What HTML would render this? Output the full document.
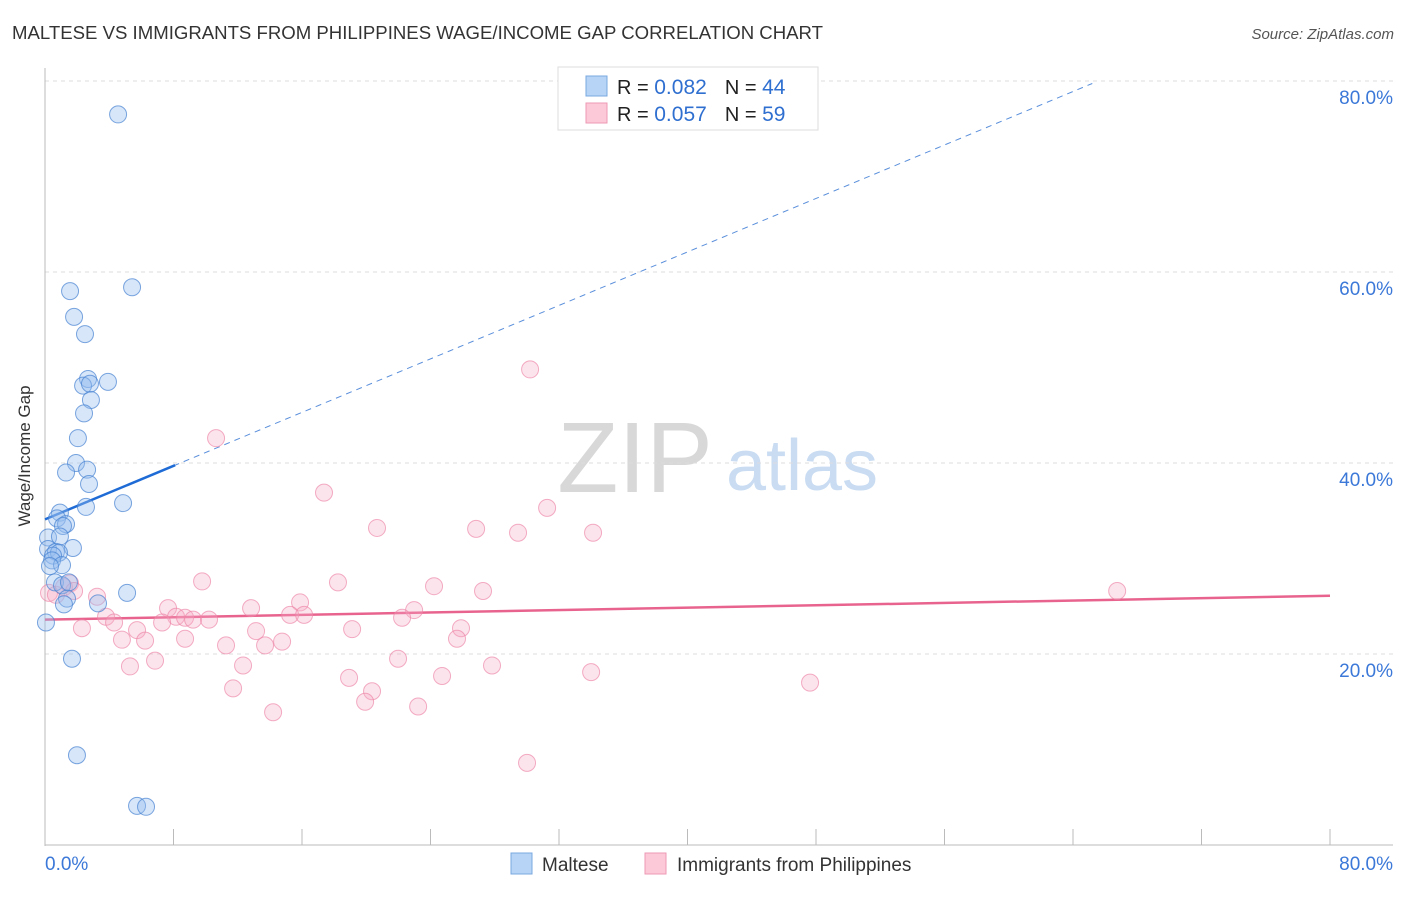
<!DOCTYPE html>
<html><head><meta charset="utf-8"><style>
body{margin:0;background:#fff;font-family:"Liberation Sans",sans-serif;}
svg text{font-family:"Liberation Sans",sans-serif;}
</style></head><body>
<svg id="chart" width="1406" height="892" xmlns="http://www.w3.org/2000/svg">
<text x="12" y="39" font-size="18" fill="#333" textLength="811" lengthAdjust="spacingAndGlyphs">MALTESE VS IMMIGRANTS FROM PHILIPPINES WAGE/INCOME GAP CORRELATION CHART</text>
<text x="1394" y="39" font-size="15" fill="#555" font-style="italic" text-anchor="end">Source: ZipAtlas.com</text>
<text x="30" y="456" font-size="17" fill="#333" text-anchor="middle" transform="rotate(-90 30 456)">Wage/Income Gap</text>
<g><text x="635" y="492" font-size="100" fill="#d8d8d8" font-family="Liberation Serif" text-anchor="middle">ZIP</text><text x="802" y="490" font-size="72" fill="#c9dcf2" text-anchor="middle">atlas</text></g>
<g id="grid"></g><g id="axes"></g><g id="trend"></g><g id="pts"></g>
<g>
<rect x="558" y="67" width="260" height="63" fill="#fff" stroke="#ddd"/>
<rect x="586" y="76" width="21" height="20" fill="#b7d3f5" stroke="#7aa8e0"/>
<rect x="586" y="103" width="21" height="20" fill="#fbc9d8" stroke="#ef9ab5"/>
<text x="617" y="94" font-size="20" fill="#222">R = <tspan fill="#2f6fd0" font-size="21">0.082</tspan><tspan dx="18">N = </tspan><tspan fill="#2f6fd0" font-size="21">44</tspan></text>
<text x="617" y="121" font-size="20" fill="#222">R = <tspan fill="#2f6fd0" font-size="21">0.057</tspan><tspan dx="18">N = </tspan><tspan fill="#2f6fd0" font-size="21">59</tspan></text>
</g>
<g>
<rect x="511" y="853" width="21" height="21" fill="#b7d3f5" stroke="#7aa8e0"/>
<text x="542" y="871" font-size="19" fill="#333">Maltese</text>
<rect x="645" y="853" width="21" height="21" fill="#fbc9d8" stroke="#ef9ab5"/>
<text x="677" y="871" font-size="19" fill="#333">Immigrants from Philippines</text>
</g>
</svg>
<script>
const maltX=[4.55,1.56,5.42,1.81,2.49,2.68,2.37,2.80,3.92,2.86,2.43,2.05,1.93,2.62,1.31,2.74,2.55,4.86,0.93,0.75,1.31,1.12,0.19,0.93,1.74,0.19,0.68,0.87,0.50,0.44,1.06,0.31,0.62,1.06,1.49,1.37,1.18,3.30,5.11,0.06,1.68,1.99,5.73,6.29];
const maltY=[76.5,58.0,58.4,55.3,53.5,48.8,48.1,48.3,48.5,46.6,45.2,42.6,40.0,39.3,39.0,37.8,35.4,35.8,34.8,34.2,33.6,33.4,32.2,32.3,31.1,31.0,30.7,30.6,30.3,29.8,29.3,29.2,27.5,27.2,27.5,25.8,25.2,25.3,26.4,23.3,19.5,9.4,4.1,4.0];
const philX=[30.2,10.65,17.37,31.26,20.67,26.84,29.45,34.12,9.78,18.24,24.22,27.27,66.75,0.25,0.68,1.18,1.56,1.81,3.24,15.88,22.98,7.66,12.83,15.26,16.13,22.23,8.16,8.72,9.22,10.21,3.80,4.30,5.73,7.29,2.30,19.12,25.90,13.14,25.65,4.79,6.23,8.72,14.76,13.70,11.27,12.33,5.29,6.85,21.98,27.83,34.00,24.72,18.93,47.63,11.71,20.36,19.93,23.23,14.20,30.01];
const philY=[49.8,42.6,36.9,35.3,33.2,33.1,32.7,32.7,27.6,27.5,27.1,26.6,26.6,26.4,26.2,27.0,27.4,26.6,26.0,25.4,24.6,24.8,24.8,24.1,24.1,23.8,23.9,23.8,23.6,23.6,23.9,23.3,22.5,23.3,22.7,22.6,22.7,22.4,21.6,21.5,21.4,21.6,21.3,20.9,20.9,18.8,18.7,19.3,19.5,18.8,18.1,17.7,17.5,17.0,16.4,16.1,15.0,14.5,13.9,8.6];
const yTicks=[20,40,60,80];
const trendMalt=[34.1,0.70];
const trendPhil=[23.6,26.1];
const NS="http://www.w3.org/2000/svg";
const X=v=>45+v*(1285/80), Y=v=>845-v*(764/80);
function mk(tag,attrs,parent){const e=document.createElementNS(NS,tag);for(const k in attrs)e.setAttribute(k,attrs[k]);document.getElementById(parent).appendChild(e);return e;}
yTicks.forEach(t=>{
 const l=mk('line',{x1:45,x2:1393,y1:Y(t),y2:Y(t),stroke:'#ddd','stroke-dasharray':'4,4'},'grid');
 
 
 const tx=mk('text',{x:1393,y:Y(t)+23,'font-size':19,fill:'#3b78d8','text-anchor':'end'},'grid');
 tx.textContent=t.toFixed(1)+'%';
 
 
});
mk('line',{x1:45,x2:45,y1:68,y2:846,stroke:'#bbb'},'axes');
mk('line',{x1:45,x2:1393,y1:845,y2:845,stroke:'#bbb'},'axes');
for(let i=0;i<=10;i++){const t=mk('line',{x1:X(i*8),x2:X(i*8),y1:829,y2:845,stroke:'#bbb'},'axes');}
let a=mk('text',{x:45,y:870,'font-size':19,fill:'#3b78d8'},'axes');a.textContent='0.0%';


a=mk('text',{x:1393,y:870,'font-size':19,fill:'#3b78d8','text-anchor':'end'},'axes');a.textContent='80.0%';


philX.forEach((v,i)=>{const c=mk('circle',{cx:X(v),cy:Y(philY[i]),r:8.5,fill:'rgba(246,170,195,0.32)',stroke:'rgba(236,130,165,0.65)','stroke-width':1},'pts');
 
 });
maltX.forEach((v,i)=>{const c=mk('circle',{cx:X(v),cy:Y(maltY[i]),r:8.5,fill:'rgba(150,190,240,0.38)',stroke:'rgba(70,130,210,0.7)','stroke-width':1},'pts');
 
 });
const m=v=>trendMalt[0]+trendMalt[1]*v;
let l=mk('line',{x1:X(8),y1:Y(m(8)),x2:X(65.2),y2:Y(m(65.2)),stroke:'#5a8fdb','stroke-width':1,'stroke-dasharray':'6,5'},'trend');


l=mk('line',{x1:X(0),y1:Y(m(0)),x2:X(8.1),y2:Y(m(8.1)),stroke:'#1f6bd6','stroke-width':2.5},'trend');


l=mk('line',{x1:X(0),y1:Y(trendPhil[0]),x2:X(80),y2:Y(trendPhil[1]),stroke:'#e8648f','stroke-width':2.5},'trend');


</script>
</body></html>
